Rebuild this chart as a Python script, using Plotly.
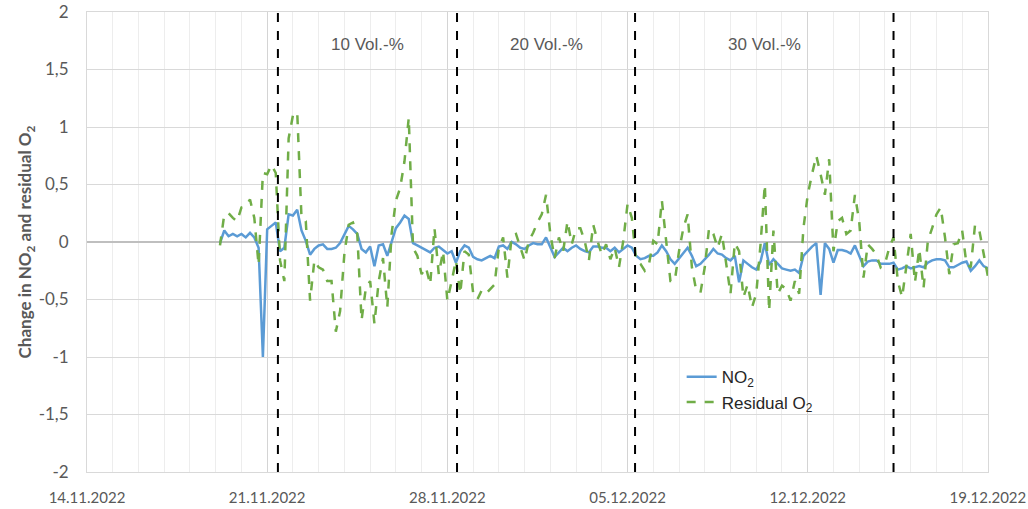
import pandas as pd
import plotly.graph_objects as go

# ---- data ----
series_start = "2022-11-19 04:00"
series_step = "4h"

no2 = [
    -0.01, 0.10, 0.05, 0.07, 0.05, 0.07, 0.04, 0.08, 0.04, -0.05,
    -1.00, 0.11, 0.14, 0.17, -0.08, -0.05, 0.24, 0.23, 0.28, 0.10,
    0.01, -0.11, -0.06, -0.03, -0.02, -0.06, -0.06, -0.05, -0.01, 0.07,
    0.14, 0.11, 0.07, -0.06, -0.09, -0.04, -0.21, -0.03, -0.02, -0.12,
    0.01, 0.12, 0.17, 0.23, 0.20, -0.01, -0.03, -0.05, -0.07, -0.09,
    -0.05, -0.04, -0.07, -0.10, -0.08, -0.18, -0.08, -0.03, -0.05, -0.13,
    -0.15, -0.16, -0.14, -0.12, -0.14, -0.04, -0.03, -0.06, 0.00, -0.02,
    -0.05, -0.06, -0.03, -0.01, -0.02, -0.02, 0.04, -0.04, -0.13, -0.09,
    -0.05, -0.08, -0.05, -0.03, -0.06, -0.08, -0.09, -0.04, -0.04, -0.05,
    -0.05, -0.08, -0.05, -0.09, -0.06, -0.03, -0.05, -0.12, -0.15, -0.14,
    -0.12, -0.12, -0.09, -0.03, -0.08, -0.15, -0.19, -0.14, -0.10, -0.05,
    -0.12, -0.21, -0.19, -0.15, -0.11, -0.06, -0.10, -0.11, -0.14, -0.16,
    -0.12, -0.35, -0.16, -0.19, -0.22, -0.24, -0.17, -0.01, -0.20, -0.15,
    -0.19, -0.23, -0.24, -0.25, -0.24, -0.27, -0.12, -0.08, -0.04, -0.01,
    -0.46, -0.01, -0.06, -0.18, -0.07, -0.07, -0.08, -0.10, -0.03, -0.12,
    -0.21, -0.17, -0.16, -0.16, -0.19, -0.19, -0.19, -0.18, -0.24, -0.23,
    -0.21, -0.23, -0.22, -0.21, -0.22, -0.18, -0.16, -0.15, -0.15, -0.16,
    -0.22, -0.22, -0.20, -0.18, -0.17, -0.25, -0.21, -0.16, -0.21, -0.23,
]

residual_o2 = [
    -0.03, 0.24, 0.25, 0.21, 0.18, 0.30, 0.31, 0.37, 0.21, -0.20,
    0.60, 0.59, 0.67, 0.60, -0.16, -0.34, 0.90, 1.10, 1.13, 0.21,
    0.18, -0.51, -0.16, -0.22, -0.24, -0.34, -0.34, -0.78, -0.60, -0.10,
    0.15, 0.17, 0.07, -0.68, -0.40, -0.34, -0.71, -0.34, -0.14, -0.57,
    0.07, 0.36, 0.47, 0.70, 1.08, -0.05, -0.12, -0.28, -0.22, -0.37,
    0.12, -0.28, -0.08, -0.51, -0.34, -0.16, -0.45, -0.08, -0.11, -0.44,
    -0.50, -0.42, -0.45, -0.41, -0.37, -0.05, 0.04, -0.31, 0.05, 0.07,
    -0.05, -0.16, 0.01, 0.08, 0.17, 0.24, 0.41, 0.07, -0.14, 0.04,
    -0.08, 0.18, -0.02, 0.12, 0.12, 0.01, -0.16, 0.15, 0.01, -0.11,
    -0.02, -0.15, -0.05, -0.22, 0.01, 0.33, 0.21, -0.16, -0.19, -0.25,
    -0.19, 0.01, -0.02, 0.36, 0.01, -0.34, -0.34, -0.08, 0.12, 0.24,
    -0.22, -0.42, -0.44, -0.22, 0.12, 0.07, -0.05, 0.07, -0.19, -0.45,
    -0.01, -0.08, -0.48, -0.37, -0.57, -0.45, -0.02, 0.50, -0.60, 0.10,
    -0.45, -0.38, -0.41, -0.51, -0.34, -0.45, 0.12, 0.41, 0.59, 0.75,
    0.59, 0.41, 0.72, -0.08, 0.18, 0.21, 0.07, 0.10, 0.41, 0.18,
    -0.31, -0.02, -0.06, -0.11, -0.22, -0.19, -0.05, 0.04, -0.34, -0.48,
    -0.21, 0.07, -0.35, -0.06, -0.40, 0.01, 0.12, 0.24, 0.30, 0.04,
    -0.28, -0.02, -0.01, 0.10, -0.19, -0.22, 0.15, 0.10, -0.10, -0.30,
]

phase_changes = ["2022-11-21 10:00", "2022-11-28 09:00",
                 "2022-12-05 07:00", "2022-12-15 08:00"]
phase_labels = ["10 Vol.-%", "20 Vol.-%", "30 Vol.-%"]

y_tickvals = [-2, -1.5, -1, -0.5, 0, 0.5, 1, 1.5, 2]
y_ticktext = ["-2", "-1,5", "-1", "-0,5", "0", "0,5", "1", "1,5", "2"]
x_tickvals = ["2022-11-14", "2022-11-21", "2022-11-28",
              "2022-12-05", "2022-12-12", "2022-12-19"]
x_range = ["2022-11-14", "2022-12-19 00:05"]

# ---- figure ----
times = pd.date_range(series_start, periods=len(no2), freq=series_step)
pc = pd.to_datetime(phase_changes)

fig = go.Figure()
fig.add_trace(go.Scatter(
    x=times, y=no2, mode="lines", name="NO<sub>2</sub>",
    line=dict(color="#5b9bd5", width=2.5),
))
fig.add_trace(go.Scatter(
    x=times, y=residual_o2, mode="lines", name="Residual O<sub>2</sub>",
    line=dict(color="#70ad47", width=2.5, dash="dash"),
))

for t in pc:
    fig.add_shape(type="line", xref="x", yref="paper", x0=t, x1=t, y0=0, y1=1,
                  line=dict(color="black", width=2, dash="dash"))

for i, lab in enumerate(phase_labels):
    mid = pc[i] + (pc[i + 1] - pc[i]) / 2
    fig.add_annotation(x=mid, y=0.93, xref="x", yref="paper", text=lab,
                       showarrow=False, yanchor="middle",
                       font=dict(family="Liberation Sans", size=17, color="#595959"))

DAY = 86400000
fig.update_layout(
    width=1028, height=509,
    margin=dict(l=87, r=40, t=12, b=37),
    plot_bgcolor="white", paper_bgcolor="white",
    showlegend=True,
    legend=dict(x=0.66, y=0.245, xanchor="left", yanchor="top",
                bgcolor="rgba(0,0,0,0)",
                font=dict(family="Liberation Sans", size=17, color="#262626"),
                tracegroupgap=0),
    xaxis=dict(
        type="date", range=x_range, tickvals=x_tickvals, automargin=False,
        tickformat="%d.%m.%Y", showgrid=True, gridcolor="#d4d4d4", gridwidth=1,
        minor=dict(dtick=DAY, tick0="2022-11-14", showgrid=True,
                   gridcolor="#ededed", gridwidth=1),
        showline=True, linecolor="#d9d9d9", mirror=True, zeroline=False,
        ticks="", ticklabelstandoff=12, ticklabeloverflow="allow",
        tickfont=dict(family="Lato", size=15, color="#595959"),
    ),
    yaxis=dict(
        range=[-2, 2], tickvals=y_tickvals, ticktext=y_ticktext, automargin=False,
        showgrid=True, gridcolor="#d9d9d9", gridwidth=1,
        zeroline=True, zerolinecolor="#bfbfbf", zerolinewidth=1.5,
        showline=True, linecolor="#d9d9d9", mirror=True,
        ticks="", ticklabelstandoff=14,
        tickfont=dict(family="Lato", size=17, color="#595959"),
        title=dict(text="<b>Change in NO<sub>2</sub> and residual O<sub>2</sub></b>",
                   font=dict(family="Lato", size=17, color="#595959"),
                   standoff=2),
    ),
)

fig.write_html("out.html")
